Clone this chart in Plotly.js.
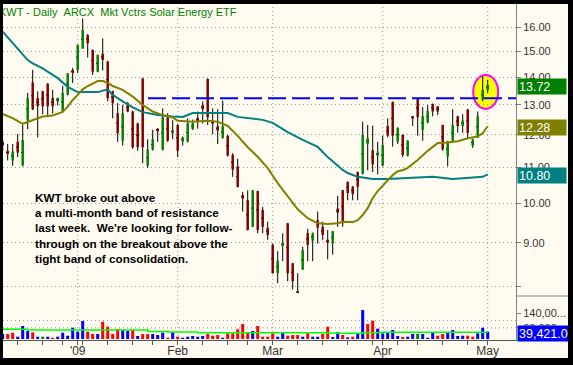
<!DOCTYPE html>
<html><head><meta charset="utf-8">
<script src="https://cdn.plot.ly/plotly-3.0.1.min.js"></script>
<style>
html,body{margin:0;padding:0;background:#000;width:573px;height:365px;overflow:hidden;}
#chart{position:absolute;left:3px;top:4px;width:565px;height:354px;}
</style></head><body><div id="chart"></div>
<script>
// ---- data ----
const dates = [
 '2008-12-10','2008-12-11','2008-12-12','2008-12-15','2008-12-16','2008-12-17','2008-12-18','2008-12-19','2008-12-22','2008-12-23',
 '2008-12-24','2008-12-26','2008-12-29','2008-12-30','2008-12-31','2009-01-02','2009-01-05','2009-01-06','2009-01-07','2009-01-08',
 '2009-01-09','2009-01-12','2009-01-13','2009-01-14','2009-01-15','2009-01-16','2009-01-20','2009-01-21','2009-01-22','2009-01-23',
 '2009-01-26','2009-01-27','2009-01-28','2009-01-29','2009-01-30','2009-02-02','2009-02-03','2009-02-04','2009-02-05','2009-02-06',
 '2009-02-09','2009-02-10','2009-02-11','2009-02-12','2009-02-13','2009-02-17','2009-02-18','2009-02-19','2009-02-20','2009-02-23',
 '2009-02-24','2009-02-25','2009-02-26','2009-02-27','2009-03-02','2009-03-03','2009-03-04','2009-03-05','2009-03-06','2009-03-09',
 '2009-03-10','2009-03-11','2009-03-12','2009-03-13','2009-03-16','2009-03-17','2009-03-18','2009-03-19','2009-03-20','2009-03-23',
 '2009-03-24','2009-03-25','2009-03-26','2009-03-27','2009-03-30','2009-03-31','2009-04-01','2009-04-02','2009-04-03','2009-04-06',
 '2009-04-07','2009-04-08','2009-04-09','2009-04-13','2009-04-14','2009-04-15','2009-04-16','2009-04-17','2009-04-20','2009-04-21',
 '2009-04-22','2009-04-23','2009-04-24','2009-04-27','2009-04-28','2009-04-29','2009-04-30','2009-05-01'];

const openP = [11.78,11.50,11.21,11.78,11.06,12.48,13.80,13.24,13.48,13.75,
 13.24,13.12,12.77,13.36,14.27,14.27,15.11,15.66,15.05,14.20,
 14.90,14.59,13.48,12.71,11.81,13.06,12.77,12.37,13.95,11.06,
 11.53,12.20,11.53,12.58,12.05,12.32,11.79,11.78,12.18,12.55,
 12.99,13.93,12.43,12.28,11.90,11.97,11.37,11.03,10.22,10.08,
 9.39,10.33,9.82,9.37,8.95,8.30,8.92,9.48,8.52,7.88,
 8.38,9.24,9.05,9.56,9.39,9.07,8.98,9.86,10.35,10.58,
 10.45,10.87,10.82,11.71,11.52,11.35,11.06,12.29,13.10,11.78,
 12.00,11.35,12.61,13.21,12.16,12.40,13.03,12.95,12.32,11.33,
 11.81,12.61,12.29,12.84,11.66,11.92,13.18,13.53];
const highP = [11.87,11.71,11.71,12.03,12.32,13.42,14.27,13.48,13.50,13.78,
 13.53,13.26,13.68,14.15,14.35,15.27,16.37,15.70,15.07,14.87,
 15.52,14.62,13.50,13.06,13.00,13.10,12.80,12.40,13.97,11.86,
 12.16,12.22,12.88,12.72,12.48,12.35,11.95,12.54,12.50,12.77,
 13.12,13.95,12.88,12.85,13.15,12.00,11.43,11.26,10.31,10.35,
 10.36,10.34,9.90,9.52,8.98,8.80,9.23,9.49,8.53,8.30,
 8.90,9.34,9.25,9.78,9.52,9.31,9.29,10.20,10.36,10.60,
 10.47,10.88,12.43,12.32,12.30,11.78,11.97,12.54,13.12,12.25,
 12.02,11.83,12.62,13.22,12.92,12.99,13.05,12.96,12.33,11.81,
 12.85,12.63,12.68,12.86,11.88,12.77,14.02,13.90];
const lowP = [11.50,11.21,11.05,11.31,11.03,12.18,12.82,11.92,12.68,12.58,
 12.71,12.98,12.75,13.33,13.78,14.15,15.10,14.75,14.08,14.18,
 14.25,13.12,12.54,11.78,11.66,12.75,11.56,11.50,11.13,10.99,
 11.51,11.78,11.51,11.78,11.86,11.31,11.66,11.76,12.16,12.20,
 12.37,12.32,12.02,11.71,11.88,11.33,10.73,10.43,9.78,9.30,
 9.38,9.23,9.23,9.07,8.29,8.08,8.57,8.12,7.95,7.87,
 8.37,8.57,8.57,8.98,9.07,8.61,8.72,9.39,9.39,10.08,
 10.08,10.08,10.80,10.92,10.87,10.80,11.03,11.92,11.63,11.71,
 11.31,11.33,12.29,11.97,11.81,12.38,12.61,12.65,11.50,11.03,
 11.79,12.07,12.07,11.86,11.59,11.90,13.12,13.41];
const closeP = [11.66,11.40,11.48,11.45,11.84,13.24,12.85,12.95,12.95,12.95,
 12.95,13.24,13.42,14.13,14.15,15.25,15.87,15.32,14.20,14.85,
 14.65,13.24,13.06,12.05,12.71,12.77,11.61,11.61,11.61,11.53,
 11.86,12.12,12.58,11.81,12.16,11.50,11.92,12.37,12.37,12.43,
 12.85,12.58,12.37,12.14,12.28,11.35,10.94,10.44,10.13,9.31,
 10.35,9.31,9.39,9.19,8.30,8.58,9.00,8.30,8.12,7.90,
 8.82,8.95,9.23,9.37,9.19,9.00,9.28,9.75,9.48,10.28,
 10.25,10.45,12.00,11.89,11.09,11.45,11.68,11.97,11.97,12.22,
 11.37,11.81,12.54,12.58,12.61,12.80,12.77,12.77,11.55,11.80,
 12.32,12.29,12.47,12.07,11.86,12.61,13.53,13.72];

const volume = [27000,27000,34000,12400,70200,43200,36200,12400,12400,12400,
 7000,12400,34000,17800,61000,39400,97200,39400,27000,27000,
 93400,66400,27000,54000,48600,43200,48600,16200,27000,27000,
 27000,21600,34000,7000,36200,12400,7000,12400,16200,12400,
 16200,27000,17800,21600,7000,30800,30800,52400,81000,36200,
 43200,70200,12400,12400,30800,12400,36200,17800,21600,21600,
 12400,30800,12400,12400,27000,66400,10800,36200,21600,9200,
 12400,30800,156600,81000,98800,55600,30800,36200,48600,16200,
 10800,12400,27000,27000,27000,7000,36200,17800,27000,36200,
 48600,16200,17800,17800,12400,30800,61000,39421];
// u = up volume, d = down volume, n = unchanged
const volDir = ['u','d','d','u','u','u','d','u','n','u',
 'd','u','u','u','u','u','u','d','d','u',
 'd','d','d','d','u','u','d','u','d','d',
 'u','u','u','d','u','d','u','u','u','u',
 'u','d','d','d','u','d','d','d','d','d',
 'u','d','d','d','d','u','u','d','d','d',
 'u','d','u','u','d','d','u','u','d','u',
 'd','u','u','d','d','u','u','u','u','u',
 'd','u','u','n','u','u','u','d','d','u',
 'u','u','u','d','d','u','u','u'];

const ma20Dates = ['2008-12-10','2008-12-12','2008-12-16','2008-12-18','2008-12-22','2008-12-24','2008-12-29','2008-12-30','2008-12-31','2009-01-02',
 '2009-01-05','2009-01-06','2009-01-07','2009-01-08','2009-01-09','2009-01-12','2009-01-13','2009-01-15','2009-01-20','2009-01-22',
 '2009-01-26','2009-01-28','2009-01-30','2009-02-02','2009-02-05','2009-02-10','2009-02-12','2009-02-17','2009-02-19','2009-02-23',
 '2009-02-25','2009-02-27','2009-03-03','2009-03-05','2009-03-09','2009-03-11','2009-03-13','2009-03-17','2009-03-19','2009-03-20',
 '2009-03-24','2009-03-25','2009-03-26','2009-03-27','2009-03-30','2009-03-31','2009-04-01','2009-04-02','2009-04-03','2009-04-06',
 '2009-04-07','2009-04-08','2009-04-13','2009-04-15','2009-04-17','2009-04-21','2009-04-23','2009-04-27','2009-04-29','2009-04-30','2009-05-01'];
const ma20 = [12.69,12.55,12.36,12.49,12.60,12.64,12.76,12.94,13.17,13.35,
 13.55,13.67,13.77,13.85,13.85,13.79,13.67,13.53,13.29,13.00,
 12.77,12.65,12.57,12.46,12.43,12.46,12.43,12.29,11.97,11.61,
 11.32,10.98,10.55,10.20,9.84,9.61,9.48,9.46,9.48,9.52,
 9.51,9.56,9.69,9.87,10.14,10.33,10.47,10.64,10.78,10.89,
 10.92,10.99,11.22,11.50,11.74,11.76,11.80,11.89,11.95,12.05,12.28];

const ma50Dates = ['2008-12-10','2008-12-12','2008-12-16','2008-12-17','2008-12-18','2008-12-22','2008-12-26','2008-12-30','2009-01-02','2009-01-08',
 '2009-01-12','2009-01-13','2009-01-15','2009-01-20','2009-01-22','2009-01-27','2009-01-30','2009-02-03','2009-02-05','2009-02-10',
 '2009-02-17','2009-02-19','2009-02-26','2009-03-02','2009-03-05','2009-03-10','2009-03-13','2009-03-17','2009-03-20','2009-03-23',
 '2009-03-25','2009-03-30','2009-04-02','2009-04-08','2009-04-16','2009-04-22','2009-04-28','2009-04-30','2009-05-01'];
const ma50 = [15.80,15.32,14.85,14.65,14.52,14.33,13.96,13.64,13.45,13.45,
 13.55,13.35,13.12,12.91,12.75,12.65,12.60,12.59,12.72,12.72,
 12.72,12.59,12.49,12.39,12.09,11.84,11.62,11.31,10.93,10.84,
 10.73,10.67,10.67,10.70,10.73,10.67,10.70,10.73,10.80];

const volMaDates = ['2008-12-10','2008-12-17','2009-01-23','2009-01-29','2009-02-06','2009-03-17','2009-03-26','2009-04-01','2009-05-01'];
const volMa = [52400,48600,41000,38000,34000,31000,34000,36000,36000];

const monthLabels = ["'09", 'Feb', 'Mar', 'Apr', 'May'];
const priceTicks = [8, 9, 10, 11, 12, 13, 14, 15, 16];
const volTicks = [60000, 140000];
const volTickText = ['60,000', '140,00...'];
const resistance = 13.23;
const titleText = 'KWT - Daily \u00a0ARCX \u00a0Mkt Vctrs Solar Energy ETF';
const noteLines = ['KWT broke out above', 'a multi-month band of resistance',
  'last week. \u00a0We\'re looking for follow-', 'through on the breakout above the', 'tight band of consolidation.'];

// ---- derived ----
const FONT = 'Liberation Sans, Arial, sans-serif';
const BG = '#FFFBF0';
const priceBottom = 44 / 336;
const LO = Math.log10(7.809), HI = Math.log10(17.012);
const pf = p => priceBottom + (1 - priceBottom) * (Math.log10(p) - LO) / (HI - LO);
const idx = d => dates.indexOf(d);
const monthStarts = dates.filter((d, i) => i > 0 && d.slice(5, 7) !== dates[i - 1].slice(5, 7));
const weekStarts = dates.filter((d, i) => i > 0 && new Date(d).getUTCDay() < new Date(dates[i - 1]).getUTCDay());
const tickDates = dates.filter(d => monthStarts.includes(d) || weekStarts.includes(d));
const tickText = tickDates.map(d => monthStarts.includes(d) ? monthLabels[monthStarts.indexOf(d)] : '');
const mid = openP.map((o, i) => (o + closeP[i]) / 2);
const volColors = volDir.map(v => v === 'u' ? '#0000FF' : v === 'd' ? '#FF0000' : '#008000');

const traces = [
  { type: 'bar', x: dates, y: volume, yaxis: 'y2', width: 0.6,
    marker: { color: volColors, line: { width: 0 } }, hoverinfo: 'skip' },
  { type: 'scatter', mode: 'lines', x: volMaDates, y: volMa, yaxis: 'y2',
    line: { color: '#00FF00', width: 1.5, shape: 'hv' }, hoverinfo: 'skip' },
  { type: 'scatter', mode: 'lines', x: ma50Dates, y: ma50,
    line: { color: '#008080', width: 2 }, hoverinfo: 'skip' },
  { type: 'scatter', mode: 'lines', x: ma20Dates, y: ma20,
    line: { color: '#808000', width: 2 }, hoverinfo: 'skip' },
  // wicks
  { type: 'candlestick', x: dates, open: mid, close: mid, high: highP, low: lowP,
    increasing: { line: { color: '#000000', width: 1 }, fillcolor: '#000000' },
    decreasing: { line: { color: '#000000', width: 1 }, fillcolor: '#000000' },
    whiskerwidth: 0, hoverinfo: 'skip' },
  // bodies
  { type: 'candlestick', x: dates, open: openP, close: closeP, high: highP, low: lowP,
    increasing: { line: { color: '#008000', width: 0 }, fillcolor: '#008000' },
    decreasing: { line: { color: '#800000', width: 0 }, fillcolor: '#800000' },
    whiskerwidth: 0, hoverinfo: 'skip' }
];

const dotted = { color: '#9A9A9A', width: 1, dash: '1px,3px' };
const shapes = [];
monthStarts.forEach(d => shapes.push({ type: 'line', xref: 'x', yref: 'paper', x0: idx(d), x1: idx(d), y0: 0, y1: 1, line: dotted, layer: 'below' }));
[60000, 100000].forEach(v => shapes.push({ type: 'line', xref: 'paper', yref: 'y2', x0: 0, x1: 1, y0: v, y1: v, line: dotted, layer: 'below' }));
shapes.push({ type: 'line', xref: 'paper', yref: 'paper', x0: 1, x1: 1.2, y0: priceBottom, y1: priceBottom, line: { color: '#808080', width: 1 } });
shapes.push({ type: 'line', xref: 'paper', yref: 'paper', x0: 1, x1: 1.2, y0: 0, y1: 0, line: { color: '#00FF00', width: 1.5 } });
shapes.push({ type: 'circle', xref: 'x', yref: 'paper', x0: 94.1, x1: 99.1, y0: pf(12.86), y1: pf(14.08),
  fillcolor: '#FFFF00', line: { color: '#FF00FF', width: 2 }, layer: 'between' });
shapes.push({ type: 'line', xref: 'paper', yref: 'paper', x0: 145 / 513, x1: 1, y0: pf(resistance), y1: pf(resistance),
  line: { color: '#0000FF', width: 2, dash: '18px,6px' }, layer: 'above' });

const last = dates.length - 1;
const box = (txt, yref, y, bg, w) => ({ xref: 'paper', x: 1, xanchor: 'left', xshift: 1, yref: yref, y: y, yanchor: 'middle', yshift: -1.5,
  text: txt, showarrow: false, bgcolor: bg, width: w, height: 13, align: 'left', borderpad: 1,
  font: { family: FONT, size: 12.5, color: '#FFFFFF' } });

const annotations = [
  { xref: 'paper', yref: 'paper', x: 0, y: 1, xanchor: 'left', yanchor: 'top', xshift: -6, showarrow: false,
    text: titleText, font: { family: FONT, size: 11, color: '#008000' } },
  { xref: 'paper', yref: 'paper', x: 30 / 513, y: 0.4497, xanchor: 'left', yanchor: 'top', align: 'left', showarrow: false,
    text: '<b>' + noteLines.join('<br>') + '</b>', font: { family: FONT, size: 11.7, color: '#000000' } },
  box(closeP[last].toFixed(2), 'y', Math.log10(closeP[last]), '#008000', 46),
  box(ma20[ma20.length - 1].toFixed(2), 'y', Math.log10(ma20[ma20.length - 1]), '#808000', 46),
  box(ma50[ma50.length - 1].toFixed(2), 'y', Math.log10(ma50[ma50.length - 1]), '#008080', 46),
  box(volume[last].toLocaleString('en-US', { minimumFractionDigits: 2 }), 'y2', volume[last], '#0000FF', 60)
];

const layout = {
  width: 565, height: 354,
  margin: { l: 0, r: 52, t: 0, b: 18, pad: 0 },
  paper_bgcolor: BG, plot_bgcolor: BG, showlegend: false,
  font: { family: FONT },
  xaxis: { type: 'category', categoryorder: 'array', categoryarray: dates, range: [0.06, 102.66], anchor: 'y2',
    tickmode: 'array', tickvals: tickDates, ticktext: tickText, ticks: 'outside', ticklen: 4, tickcolor: '#555555',
    ticklabelstandoff: -4,
    showline: true, linecolor: '#555555', showgrid: false, zeroline: false,
    tickfont: { family: FONT, size: 12, color: '#333333' }, rangeslider: { visible: false } },
  yaxis: { type: 'log', domain: [priceBottom, 1], range: [LO, HI], side: 'right',
    tickmode: 'array', tickvals: priceTicks, ticktext: priceTicks.map(v => v === 8 ? '' : v.toFixed(2)),
    ticks: 'outside', ticklen: 4, tickcolor: '#808080', showline: true, linecolor: '#808080',
    showgrid: true, gridcolor: '#9A9A9A', griddash: '1px,3px', zeroline: false,
    tickfont: { family: FONT, size: 11, color: '#333333' } },
  yaxis2: { domain: [0, priceBottom], range: [-5400, 232200], side: 'right',
    tickmode: 'array', tickvals: volTicks, ticktext: volTickText,
    ticks: 'outside', ticklen: 4, tickcolor: '#808080', showline: true, linecolor: '#808080',
    showgrid: false, zeroline: false, tickfont: { family: FONT, size: 11, color: '#333333' } },
  shapes: shapes, annotations: annotations
};

Plotly.newPlot('chart', traces, layout, { staticPlot: true, displayModeBar: false });
</script></body></html>
